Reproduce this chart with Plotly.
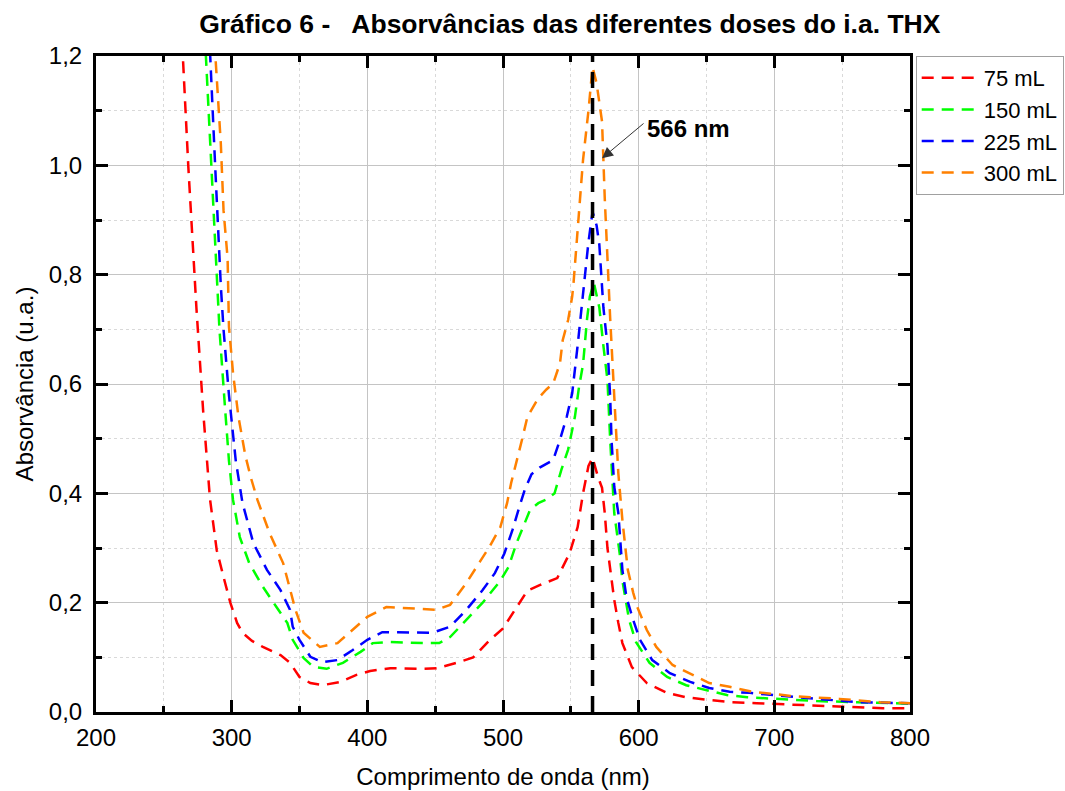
import plotly.graph_objects as go

# ---- data ----
x_75 = [262, 268, 274, 279, 284, 289, 294, 299, 304, 308, 315, 323, 336, 343, 350, 358, 367, 380, 392, 402,
        417, 441, 451, 466, 478, 490, 500, 510, 518, 527, 540, 549, 555, 559, 563, 566, 570, 573, 575, 577,
        580, 582, 585, 588, 595, 606, 621, 635, 652, 669, 687, 717, 748, 780, 800]
y_75 = [1.30, 1.00, 0.74, 0.55, 0.39, 0.296, 0.247, 0.20, 0.163, 0.145, 0.13, 0.119, 0.104, 0.09, 0.064, 0.053,
        0.049, 0.055, 0.068, 0.075, 0.08, 0.079, 0.08, 0.09, 0.10, 0.131, 0.153, 0.192, 0.222, 0.232, 0.245,
        0.29, 0.338, 0.40, 0.45, 0.465, 0.43, 0.41, 0.364, 0.30, 0.241, 0.205, 0.163, 0.126, 0.082, 0.053,
        0.035, 0.027, 0.022, 0.018, 0.016, 0.013, 0.009, 0.007, 0.007]

x_150 = [278, 281, 284, 287, 289, 291, 295, 298, 301, 306, 313, 323, 333, 341, 345, 353, 360, 370, 382, 395,
         404, 417, 441, 453, 461, 473, 485, 498, 504, 510, 516, 520, 526, 533, 538, 543, 548, 553, 556, 559,
         562, 564, 567, 571, 574, 577, 579, 581, 582, 586, 588, 593, 598, 608, 621, 635, 650, 665, 680, 699,
         731, 761, 800]
y_150 = [1.35, 1.20, 1.05, 0.92, 0.80, 0.70, 0.56, 0.46, 0.388, 0.32, 0.272, 0.229, 0.192, 0.163, 0.132, 0.099,
         0.083, 0.079, 0.09, 0.11, 0.126, 0.128, 0.126, 0.126, 0.137, 0.168, 0.20, 0.24, 0.265, 0.309, 0.346,
         0.37, 0.382, 0.39, 0.40, 0.443, 0.48, 0.54, 0.594, 0.636, 0.72, 0.76, 0.785, 0.74, 0.67, 0.607,
         0.498, 0.412, 0.364, 0.29, 0.24, 0.168, 0.128, 0.09, 0.064, 0.049, 0.04, 0.031, 0.027, 0.024,
         0.02, 0.018, 0.015]

x_225 = [282, 284, 288, 292, 294, 298, 303, 308, 316, 326, 336, 343, 345, 350, 358, 367, 378, 389, 400, 411,
         429, 448, 461, 473, 485, 494, 501, 507, 512, 516, 521, 527, 537, 542, 547, 551, 555, 558, 560, 563,
         566, 569, 571, 573, 574, 577, 579, 580, 582, 585, 588, 591, 596, 601, 610, 623, 638, 652, 667, 682,
         699, 731, 763, 800]
y_225 = [1.32, 1.20, 0.99, 0.78, 0.70, 0.58, 0.46, 0.382, 0.309, 0.26, 0.223, 0.187, 0.156, 0.132, 0.101, 0.091,
         0.095, 0.113, 0.132, 0.146, 0.146, 0.145, 0.156, 0.187, 0.223, 0.254, 0.29, 0.333, 0.375, 0.406,
         0.435, 0.447, 0.461, 0.498, 0.54, 0.583, 0.67, 0.74, 0.785, 0.86, 0.915, 0.89, 0.855, 0.77, 0.74,
         0.67, 0.576, 0.498, 0.412, 0.364, 0.26, 0.21, 0.168, 0.132, 0.095, 0.071, 0.055, 0.044, 0.037,
         0.035, 0.031, 0.024, 0.018, 0.016]

x_300 = [286, 288, 292, 294, 297, 298, 301, 305, 310, 314, 319, 328, 338, 343, 347, 353, 365, 378, 389, 400,
         414, 431, 451, 461, 473, 483, 490, 498, 503, 506, 510, 514, 518, 526, 532, 537, 542, 544, 548, 551,
         552, 554, 557, 559, 563, 566, 569, 573, 575, 577, 579, 581, 583, 585, 588, 590, 592, 596, 599, 606,
         613, 625, 640, 652, 667, 684, 714, 748, 778, 800]
y_300 = [1.30, 1.20, 1.04, 0.918, 0.83, 0.705, 0.62, 0.54, 0.47, 0.43, 0.388, 0.327, 0.272, 0.223, 0.187, 0.145,
         0.119, 0.126, 0.15, 0.174, 0.192, 0.19, 0.187, 0.196, 0.236, 0.275, 0.302, 0.338, 0.382, 0.419,
         0.456, 0.498, 0.54, 0.574, 0.59, 0.601, 0.638, 0.68, 0.717, 0.76, 0.785, 0.845, 0.94, 1.01, 1.10,
         1.18, 1.15, 1.08, 0.94, 0.82, 0.72, 0.625, 0.529, 0.437, 0.351, 0.309, 0.26, 0.218, 0.192, 0.15,
         0.119, 0.086, 0.068, 0.053, 0.046, 0.037, 0.029, 0.024, 0.018, 0.016]

series_names = ["75 mL", "150 mL", "225 mL", "300 mL"]
series_colors = ["#FF0000", "#00FF00", "#0000FF", "#FF8000"]
peak_nm = 566
peak_line_y = [0.0, 1.2]
title_text = "Gráfico 6 -   Absorvâncias das diferentes doses do i.a. THX"
x_title = "Comprimento de onda (nm)"
y_title = "Absorvância (u.a.)"
peak_label = "566 nm"

FONT = "Liberation Sans, Arial, sans-serif"

fig = go.Figure()
for xs, ys, name, col in zip([x_75, x_150, x_225, x_300], [y_75, y_150, y_225, y_300],
                             series_names, series_colors):
    fig.add_trace(go.Scatter(x=xs, y=ys, mode="lines", name=name,
                             line=dict(color=col, width=2.5, dash="12px,8px")))

fig.add_trace(go.Scatter(x=[peak_nm, peak_nm], y=peak_line_y, mode="lines", showlegend=False,
                         line=dict(color="black", width=3.5, dash="16px,10px")))

axis_common = dict(
    showline=True, linecolor="black", linewidth=3, mirror="ticks",
    ticks="inside", ticklen=12, tickwidth=2.5, tickcolor="black",
    showgrid=True, gridcolor="#c4c4c4", gridwidth=1,
    tickfont=dict(family=FONT, size=24, color="black"),
    zeroline=False,
)

fig.update_xaxes(range=[200, 800], dtick=100, tick0=200, **axis_common,
                 minor=dict(dtick=50, ticks="inside", ticklen=6, tickwidth=2.5, tickcolor="black",
                            showgrid=True, gridcolor="#d9d9d9", griddash="3px,3px", gridwidth=1),
                 title=dict(text=x_title, font=dict(family=FONT, size=24, color="black"), standoff=19),
                 ticklabelstandoff=2)
fig.update_yaxes(range=[0, 1.2], dtick=0.2, tick0=0, tickformat=".1f", **axis_common,
                 minor=dict(dtick=0.1, ticks="inside", ticklen=6, tickwidth=2.5, tickcolor="black",
                            showgrid=True, gridcolor="#d9d9d9", griddash="3px,3px", gridwidth=1),
                 title=dict(text=y_title, font=dict(family=FONT, size=24, color="black"), standoff=9),
                 ticklabelstandoff=6)

fig.add_annotation(x=573, y=1.013, xref="x", yref="y", text="", showarrow=True,
                   ax=43, ay=-36, arrowhead=2, arrowsize=2.2, arrowwidth=1, arrowcolor="#333333")
fig.add_annotation(x=637, y=1.068, xref="x", yref="y", text="<b>" + peak_label + "</b>",
                   showarrow=False, font=dict(family=FONT, size=24, color="black"))

fig.update_layout(
    width=1065, height=791,
    margin=dict(l=96, r=155, t=56, b=79, autoexpand=False),
    paper_bgcolor="white", plot_bgcolor="white",
    separators=",.",
    title=dict(text="<b>" + title_text + "</b>", x=0.535, xref="container", xanchor="center",
               y=1 - 24 / 791, yref="container", yanchor="middle",
               font=dict(family=FONT, size=26.5, color="black")),
    legend=dict(x=1.007, y=1.0, xanchor="left", yanchor="top", bgcolor="white",
                bordercolor="#a0a0a0", borderwidth=1, itemwidth=57,
                font=dict(family=FONT, size=22, color="black"), tracegroupgap=0),
    showlegend=True,
)

fig.write_html("out.html")
